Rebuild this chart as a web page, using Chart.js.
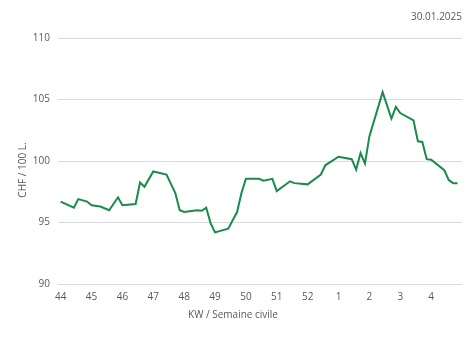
<!DOCTYPE html>
<html>
<head>
<meta charset="utf-8">
<script src="https://cdn.jsdelivr.net/npm/chart.js@4.4.1/dist/chart.umd.min.js"></script>
<style>
  html, body { margin: 0; padding: 0; background: #fff; }
  #wrap { width: 474px; height: 338px; position: relative; }
</style>
</head>
<body>
<div id="wrap"><canvas id="chart"></canvas></div>
<script>
// days counted from the first data point (week 44)
const days = [0, 3, 4, 6, 7, 9, 11, 13, 14, 17, 18, 19, 21, 24, 26, 27, 28, 31, 32, 33, 34, 35, 38, 40, 41, 42, 45, 46, 48, 49, 52, 53, 56, 59, 60, 63, 66, 67, 68, 69, 70, 73, 75, 76, 77, 80, 81, 82, 83, 84, 87, 88, 89, 90];
const prices = [96.7, 96.2, 96.9, 96.7, 96.4, 96.3, 96.0, 97.05, 96.4, 96.5, 98.25, 97.9, 99.15, 98.9, 97.4, 96.0, 95.85, 96.0, 95.95, 96.2, 94.95, 94.2, 94.5, 95.85, 97.4, 98.55, 98.55, 98.4, 98.55, 97.55, 98.35, 98.2, 98.1, 98.9, 99.65, 100.35, 100.15, 99.3, 100.65, 99.8, 102.0, 105.6, 103.45, 104.4, 103.9, 103.3, 101.6, 101.55, 100.15, 100.1, 99.25, 98.45, 98.2, 98.2];
const weekLabels = ['44', '45', '46', '47', '48', '49', '50', '51', '52', '1', '2', '3', '4'];
const weekTickDays = [0, 7, 14, 21, 28, 35, 42, 49, 56, 63, 70, 77, 84];
const yTicks = [90, 95, 100, 105, 110];
const dateText = '30.01.2025';
const xTitle = 'KW / Semaine civile';
const yTitle = 'CHF / 100 L.';

const FONT = "'Open Sans', sans-serif";
const TEXT_COLOR = '#595959';

const points = days.map((d, i) => ({ x: d, y: prices[i] }));

//? date + axis titles (centred on the whole chart like in the original)
const labelsPlugin = {
    id: 'labels',
    afterDraw: (chart) => {
        const { ctx } = chart;
        ctx.save();
        ctx.font = '10px ' + FONT;
        ctx.fillStyle = TEXT_COLOR;
        ctx.textBaseline = 'middle';
        ctx.textAlign = 'right';
        ctx.fillText(dateText, chart.chartArea.right, 17);
        ctx.textAlign = 'center';
        ctx.fillText(xTitle, 233, 315);
        ctx.translate(23, 170);
        ctx.rotate(-Math.PI / 2);
        ctx.fillText(yTitle, 0, 0);
        ctx.restore();
    }
};

new Chart('chart', {
    type: 'line',
    data: {
        datasets: [{
            data: points,
            borderColor: '#1a8b4c',
            backgroundColor: '#1a8b4c',
            borderWidth: 2,
            pointRadius: 0,
            tension: 0,
            fill: false
        }]
    },
    options: {
        responsive: true,
        maintainAspectRatio: false,
        animation: false,
        layout: { padding: { top: 38, right: 12, bottom: 0, left: 0 } },
        plugins: {
            legend: { display: false },
            tooltip: { enabled: false }
        },
        scales: {
            x: {
                type: 'linear',
                min: -0.6,
                max: 91,
                afterBuildTicks: (scale) => {
                    scale.ticks = weekTickDays.map(v => ({ value: v }));
                },
                afterFit: (scale) => { scale.height = 54; },
                ticks: {
                    autoSkip: false,
                    maxRotation: 0,
                    padding: 7,
                    color: TEXT_COLOR,
                    font: { family: FONT, size: 10 },
                    callback: (value) => weekLabels[weekTickDays.indexOf(value)]
                },
                grid: { display: false, drawTicks: false },
                border: { display: false }
            },
            y: {
                min: 90,
                max: 110,
                afterBuildTicks: (scale) => {
                    scale.ticks = yTicks.map(v => ({ value: v }));
                },
                afterFit: (scale) => { scale.width = 58; },
                ticks: {
                    padding: 8,
                    color: TEXT_COLOR,
                    font: { family: FONT, size: 10 }
                },
                grid: { color: '#d9d9d9', lineWidth: 1, drawTicks: false },
                border: { display: false }
            }
        }
    },
    plugins: [labelsPlugin]
});
</script>
</body>
</html>
